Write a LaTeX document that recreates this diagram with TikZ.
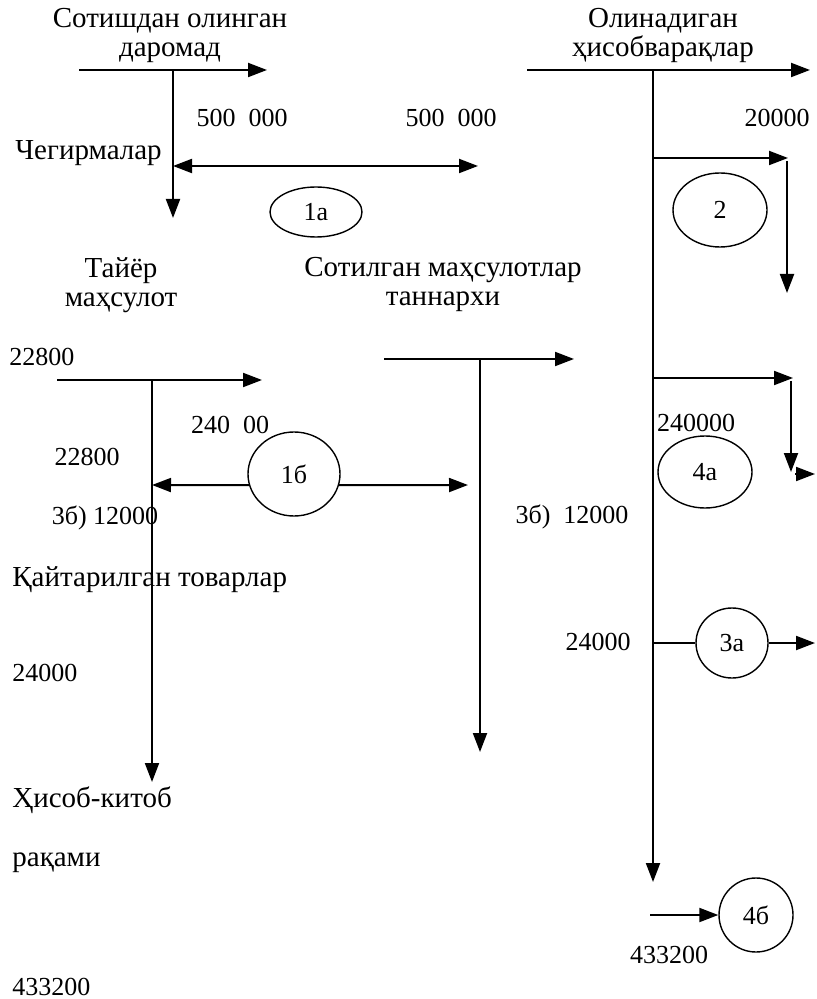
\documentclass[tikz,border=0pt]{standalone}
\usepackage{fontspec}
\setmainfont{Liberation Serif}
\usetikzlibrary{arrows.meta,shapes.geometric}

\begin{document}
\begin{tikzpicture}[x=0.5pt,y=-0.5pt,
    every node/.style={font=\fontsize{14.5}{14.5}\selectfont, inner sep=0pt},
    num/.style={font=\fontsize{13}{13}\selectfont},
    acc/.style={line width=1pt},
    arr/.style={acc, -{Triangle[length=9.5pt,width=7pt]}},
    oval/.style={draw, ellipse, line width=0.7pt, inner sep=0pt, font=\fontsize{13}{13}\selectfont}]

    \useasboundingbox (0,0) rectangle (817,999);

    % Sotishdan olingan daromad
    \node[align=center] (t1) at (170,35) {Сотишдан олинган\\даромад};
    \coordinate (a1l) at (79,70);
    \coordinate (a1r) at (267,70);
    \coordinate (a1t) at (173,70);
    \coordinate (a1b) at (173,218);
    \draw[arr] (a1l) -- (a1r);
    \draw[arr] (a1t) -- (a1b);
    \node[num] (s1) at (242,118) {500\enspace000};
    \node[num] (s2) at (451,118) {500\enspace000};
    \node[anchor=west] (cheg) at (15,153) {Чегирмалар};
    \coordinate (d1l) at (173,166);
    \coordinate (d1r) at (478,166);
    \draw[arr, {Triangle[length=9.5pt,width=7pt]}-{Triangle[length=9.5pt,width=7pt]}] (d1l) -- (d1r);
    \node[oval, minimum width=46pt, minimum height=25pt] (e1a) at (316,212) {1а};

    % Olinadigan hisobvaraqlar
    \node[align=center] (t2) at (663,35) {Олинадиган\\ҳисобварақлар};
    \coordinate (a2l) at (527,70);
    \coordinate (a2r) at (810,70);
    \coordinate (a2t) at (653,70);
    \coordinate (a2b) at (653,882);
    \draw[arr] (a2l) -- (a2r);
    \draw[arr] (a2t) -- (a2b);
    \node[num] (n20) at (777,118) {20000};
    \coordinate (b2s) at (653,158);
    \coordinate (b2e) at (788,158);
    \coordinate (b2t) at (787,161);
    \coordinate (b2b) at (787,293);
    \draw[arr] (b2s) -- (b2e);
    \draw[arr] (b2t) -- (b2b);
    \node[oval, minimum width=47pt, minimum height=37pt] (e2) at (720,210) {2};

    \coordinate (b4s) at (653,378);
    \coordinate (b4e) at (793,378);
    \coordinate (b4t) at (791,381);
    \coordinate (b4b) at (791,472);
    \coordinate (c4s) at (795,474);
    \coordinate (c4e) at (815,474);
    \draw[arr] (b4s) -- (b4e);
    \draw[arr] (b4t) -- (b4b);
    \draw[arr] (c4s) -- (c4e);
    \node[num] (n240) at (696,423) {240000};
    \node[oval, minimum width=47pt, minimum height=36pt] (e4a) at (705,472) {4а};
    \node[num] (r3b) at (572,517) {3б)\enspace 12000};

    \node[num] (n24r) at (598,642) {24000};
    \node[oval, minimum width=36pt, minimum height=35pt] (e3a) at (732,643) {3а};
    \coordinate (g3s) at (653,643);
    \coordinate (g3e) at (815,643);
    \draw[acc] (g3s) -- (e3a);
    \draw[arr] (e3a) -- (g3e);

    \node[oval, minimum width=37pt, minimum height=37pt] (e4b) at (756,915) {4б};
    \coordinate (h4s) at (650,915);
    \draw[arr] (h4s) -- (e4b.west);
    \node[num] (n433r) at (669,955) {433200};

    % Tayyor mahsulot
    \node[align=center] (t3) at (121,285) {Тайёр\\маҳсулот};
    \node[num] (n228a) at (42,357) {22800};
    \coordinate (a3l) at (57,380);
    \coordinate (a3r) at (262,380);
    \coordinate (a3t) at (152,380);
    \coordinate (a3b) at (152,782);
    \draw[arr] (a3l) -- (a3r);
    \draw[arr] (a3t) -- (a3b);
    \node[num] (n2400) at (230,425) {240\enspace00};
    \node[num] (n228b) at (87,457) {22800};
    \node[oval, minimum width=46pt, minimum height=42pt] (e1b) at (294,474) {1б};
    \coordinate (f1l) at (152,485);
    \coordinate (f1r) at (468,485);
    \draw[arr] (e1b.194) -- (f1l);
    \draw[arr] (e1b.346) -- (f1r);
    \node[num] (l3b) at (105,518) {3б) 12000};

    % Sotilgan mahsulotlar tannarxi
    \node[align=center] (t4) at (443,284) {Сотилган маҳсулотлар\\таннархи};
    \coordinate (a4l) at (384,359);
    \coordinate (a4r) at (574,359);
    \coordinate (a4t) at (480,359);
    \coordinate (a4b) at (480,752);
    \draw[arr] (a4l) -- (a4r);
    \draw[arr] (a4t) -- (a4b);

    % chap ustundagi matnlar
    \node[anchor=west] (qayt) at (12,580) {Қайтарилган товарлар};
    \node[num, anchor=west] (n24l) at (12,673) {24000};
    \node[anchor=west] (hk) at (12,800) {Ҳисоб-китоб};
    \node[anchor=west] (raq) at (12,863) {рақами};
    \node[num, anchor=west] (n433l) at (12,987) {433200};

\end{tikzpicture}
\end{document}
